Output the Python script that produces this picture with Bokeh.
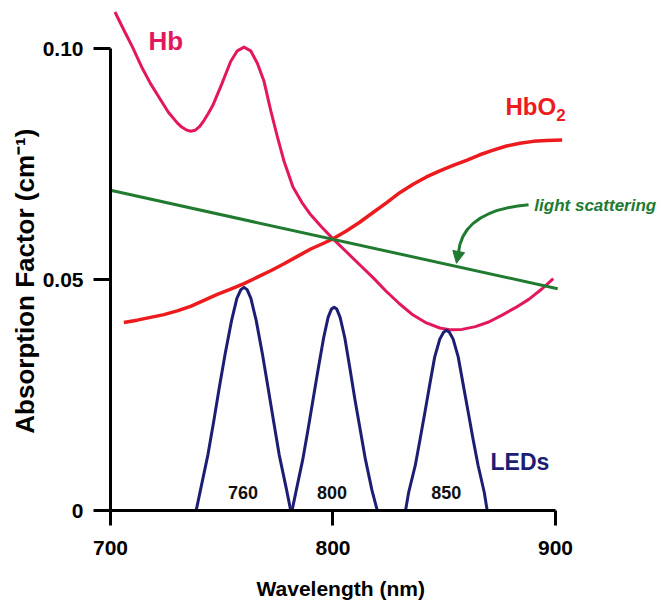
from bokeh.plotting import figure
from bokeh.models import Range1d, FixedTicker, Arrow, NormalHead
from bokeh.embed import file_html
from bokeh.resources import INLINE
from bokeh.core.properties import value

# ---------------- data ----------------
hb_wl = [702, 706, 710, 714, 718, 722, 726, 730, 732, 734, 736, 738, 740, 742, 744, 746,
         750, 754, 757, 760, 763, 766, 769, 772, 775, 778, 782, 786, 790, 795, 800, 806,
         812, 818, 824, 830, 836, 842, 848, 853, 858, 864, 870, 876, 882, 888, 894, 899]
hb_abs = [0.1079, 0.1040, 0.1002, 0.0960, 0.0924, 0.0893, 0.0862, 0.0839, 0.0830, 0.0824,
          0.0821, 0.0823, 0.0831, 0.0844, 0.0860, 0.0877, 0.0923, 0.0972, 0.0995, 0.1003,
          0.0995, 0.0968, 0.0929, 0.0866, 0.0809, 0.0756, 0.0700, 0.0667, 0.0640, 0.0613,
          0.0588, 0.0560, 0.0532, 0.0504, 0.0474, 0.0447, 0.0423, 0.0406, 0.0395, 0.0391,
          0.0392, 0.0398, 0.0408, 0.0423, 0.0439, 0.0457, 0.0480, 0.0502]

hbo2_wl = [706, 712, 718, 724, 730, 736, 742, 748, 754, 760, 766, 772, 778, 784, 790,
           796, 800, 806, 812, 818, 824, 830, 836, 842, 848, 854, 860, 866, 872, 878,
           884, 890, 896, 903]
hbo2_abs = [0.0407, 0.0412, 0.0418, 0.0424, 0.0432, 0.0442, 0.0455, 0.0468, 0.0479, 0.0491,
            0.0505, 0.0519, 0.0534, 0.0550, 0.0566, 0.0579, 0.0588, 0.0605, 0.0624, 0.0645,
            0.0666, 0.0688, 0.0706, 0.0722, 0.0735, 0.0747, 0.0758, 0.0770, 0.0780, 0.0789,
            0.0795, 0.0799, 0.0801, 0.0802]

scatter_wl = [700, 901]
scatter_abs = [0.0693, 0.0480]

led760_wl = [738.5, 740.6, 743.8, 746.4, 748.9, 751.5, 754.4, 756.8, 758.6, 760.0,
             761.4, 763.1, 765.5, 768.3, 770.8, 773.3, 775.8, 779.0, 781.0]
led760_val = [0.0, 0.0048, 0.0121, 0.0193, 0.0266, 0.0338, 0.0411, 0.0459, 0.0478, 0.0483,
              0.0478, 0.0459, 0.0411, 0.0338, 0.0266, 0.0193, 0.0121, 0.0048, 0.0]

led800_wl = [781.6, 783.5, 786.4, 788.8, 791.1, 793.4, 795.8, 797.8, 799.3, 800.5,
             801.7, 803.2, 805.3, 807.6, 809.8, 812.2, 814.6, 817.5, 819.9]
led800_val = [0.0, 0.0044, 0.0110, 0.0176, 0.0242, 0.0308, 0.0374, 0.0418, 0.0436, 0.0440,
              0.0436, 0.0418, 0.0374, 0.0308, 0.0242, 0.0176, 0.0110, 0.0044, 0.0]

led850_wl = [832.6, 834.0, 837.0, 839.2, 841.4, 843.5, 845.7, 848.0, 849.7, 851.0,
             852.3, 854.0, 856.3, 858.5, 860.7, 862.9, 865.2, 868.0, 869.3]
led850_val = [0.0, 0.0039, 0.0098, 0.0156, 0.0215, 0.0273, 0.0332, 0.0371, 0.0386, 0.0390,
              0.0386, 0.0371, 0.0332, 0.0273, 0.0215, 0.0156, 0.0098, 0.0039, 0.0]

led_label_wl = [759.6, 799.6, 850.9]
led_label_text = ["760", "800", "850"]

x_ticks = [700, 800, 900]
y_ticks = [0, 0.05, 0.10]
y_tick_labels = ["0", "0.05", "0.10"]

# ---------------- style ----------------
C_HB = "#E3175C"
C_HBO2 = "#EE1B1E"
C_SCAT = "#207A30"
C_LED = "#1B1E72"
FONT = "Liberation Sans"
NBSP = "\u00a0"

p = figure(frame_width=548, frame_height=502, output_backend="svg", toolbar_location=None,
           x_range=Range1d(700, 946.3), y_range=Range1d(0, 0.10866),
           min_border_left=110, min_border_right=0, min_border_top=8, min_border_bottom=86)
p.outline_line_color = None
p.xgrid.visible = False
p.ygrid.visible = False
p.background_fill_color = "white"
p.border_fill_color = "white"

# axes
for ax in (p.xaxis[0], p.yaxis[0]):
    ax.axis_line_width = 3
    ax.axis_line_color = "black"
    ax.major_tick_line_width = 3
    ax.major_tick_line_color = "black"
    ax.major_tick_in = 0
    ax.minor_tick_line_color = None
    ax.major_label_text_font = FONT
    ax.major_label_text_font_style = "bold"
    ax.major_label_text_font_size = "21px"
    ax.major_label_text_color = "black"
    ax.axis_label_text_font = FONT
    ax.axis_label_text_font_style = "bold"
    ax.axis_label_text_color = "black"

p.xaxis.ticker = FixedTicker(ticks=x_ticks)
p.xaxis.bounds = (x_ticks[0], x_ticks[-1])
p.xaxis.major_tick_out = 15
p.xaxis.major_label_standoff = 15
# trailing no-break spaces shift the centred title so it sits under the 700-900 axis
p.xaxis.axis_label = "Wavelength (nm)" + NBSP * 15
p.xaxis.axis_label_text_font_size = "21px"
p.xaxis.axis_label_standoff = 19

p.yaxis.ticker = FixedTicker(ticks=y_ticks)
p.yaxis.bounds = (y_ticks[0], y_ticks[-1])
p.yaxis.major_label_overrides = {t: s for t, s in zip(y_ticks, y_tick_labels)}
p.yaxis.major_tick_out = 17
p.yaxis.major_label_standoff = 10
p.yaxis.axis_label = "Absorption Factor (cm\u207b\u00b9)" + NBSP * 6
p.yaxis.axis_label_text_font_size = "26px"
p.yaxis.axis_label_standoff = 0

# curves
p.line(hb_wl, hb_abs, line_color=C_HB, line_width=3, line_join="round")
p.line(hbo2_wl, hbo2_abs, line_color=C_HBO2, line_width=3.5, line_join="round")
p.line(scatter_wl, scatter_abs, line_color=C_SCAT, line_width=3)
for wl, val in ((led760_wl, led760_val), (led800_wl, led800_val), (led850_wl, led850_val)):
    p.line(wl, val, line_color=C_LED, line_width=3, line_join="round")

# LED labels
p.text(x=led_label_wl, y=[0.0039] * len(led_label_wl), text=led_label_text,
       text_font=value(FONT), text_font_size="18px", text_font_style="bold",
       text_align="center", text_baseline="alphabetic", text_color="#111111")

# series labels
p.text(x=[717.1], y=[0.1016], text=["Hb"], text_font=value(FONT), text_font_size="26px",
       text_font_style="bold", text_color=C_HB, text_baseline="alphabetic")
p.text(x=[877.5], y=[0.0875], text=["HbO"], text_font=value(FONT), text_font_size="24px",
       text_font_style="bold", text_color=C_HBO2, text_baseline="alphabetic")
p.text(x=[900.3], y=[0.0857], text=["2"], text_font=value(FONT), text_font_size="17px",
       text_font_style="bold", text_color=C_HBO2, text_baseline="alphabetic")
p.text(x=[870.8], y=[0.0104], text=["LEDs"], text_font=value(FONT), text_font_size="23px",
       text_font_style="bold", text_color=C_LED, text_baseline="alphabetic")
p.text(x=[890.5], y=[0.0660], text=["light scattering"], text_font=value(FONT),
       text_font_size="17px", text_font_style="bold italic", text_color=C_SCAT,
       text_baseline="alphabetic")

# curved arrow for light scattering
p.quadratic(x0=[887.9], y0=[0.0662], x1=[856.4], y1=[0.0558], cx=[858.2], cy=[0.0649],
            line_color=C_SCAT, line_width=3)
p.add_layout(Arrow(end=NormalHead(size=12, fill_color=C_SCAT, line_color=C_SCAT),
                   x_start=856.4, y_start=0.0558, x_end=855.5, y_end=0.0535,
                   line_color=C_SCAT, line_width=3))

open("out.html", "w").write(file_html(p, INLINE))
